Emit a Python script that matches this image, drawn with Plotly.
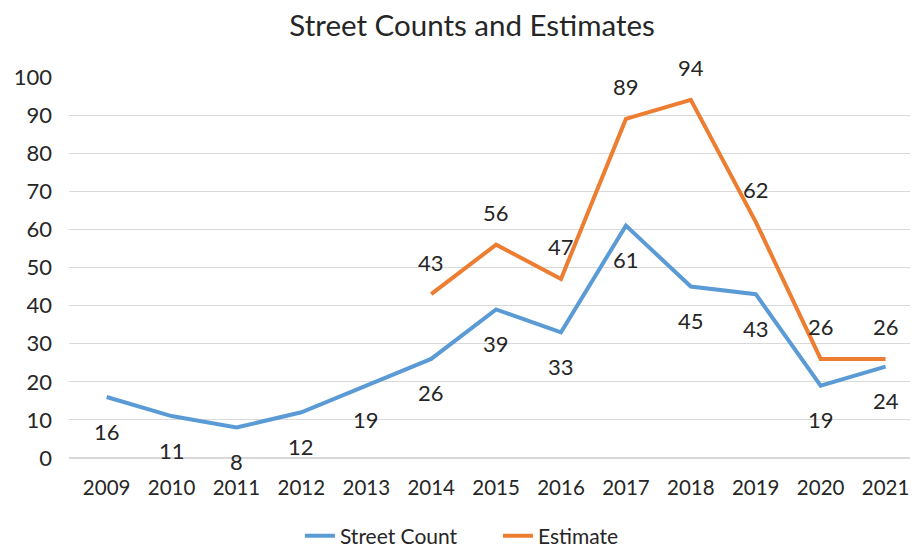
import plotly.graph_objects as go

# years on the category axis
years = ["2009", "2010", "2011", "2012", "2013", "2014", "2015",
         "2016", "2017", "2018", "2019", "2020", "2021"]

# street counts, one per year
street_count = [16, 11, 8, 12, 19, 26, 39, 33, 61, 45, 43, 19, 24]

# estimates only start in 2014
estimate = [None, None, None, None, None, 43, 56, 47, 89, 94, 62, 26, 26]

blue = "#5B9BD5"
orange = "#ED7D31"
font_name = "Lato"
txt = "#262626"

fig = go.Figure()
fig.add_trace(go.Scatter(x=years, y=street_count, mode="lines", name="Street Count",
                         line=dict(color=blue, width=4)))
fig.add_trace(go.Scatter(x=years, y=estimate, mode="lines", name="Estimate",
                         line=dict(color=orange, width=4)))

# data labels: counts under the line, estimates above it
# (x given as category index, a year string would be read as a number)
for i, v in enumerate(street_count):
    fig.add_annotation(x=i, y=v, text=str(v), showarrow=False, yshift=-34,
                       font=dict(size=22, color=txt, family=font_name))
for i, v in enumerate(estimate):
    if v is None:
        continue
    fig.add_annotation(x=i, y=v, text=str(v), showarrow=False, yshift=32,
                       font=dict(size=22, color=txt, family=font_name))

# the page body has an 8px margin, so the figure is a bit smaller than the window
fig.update_layout(
    width=910, height=543,
    margin=dict(l=61, r=0, t=69, b=93, autoexpand=False),
    paper_bgcolor="white", plot_bgcolor="white",
    font=dict(family=font_name, size=22, color=txt),
    title=dict(text="Street Counts and Estimates", x=0.51, xanchor="center",
               y=0.967, yanchor="middle", font=dict(size=29.5, color=txt)),
    legend=dict(orientation="h", x=0.272, xanchor="left", y=-0.205, yanchor="middle",
                font=dict(size=21), traceorder="normal",
                entrywidth=153, entrywidthmode="pixels"),
    xaxis=dict(type="category", range=[-0.58, 12.5], showgrid=False, automargin=False,
               showline=False, zeroline=False, ticks="", ticklabelstandoff=15,
               tickfont=dict(size=20.5), ticklabeloverflow="allow"),
    yaxis=dict(range=[0, 100], dtick=10, showgrid=True, gridcolor="#D9D9D9",
               gridwidth=1, zeroline=True, zerolinecolor="#D9D9D9", automargin=False,
               showline=False, ticks="", ticklabelstandoff=16),
)

fig.write_html("out.html")
